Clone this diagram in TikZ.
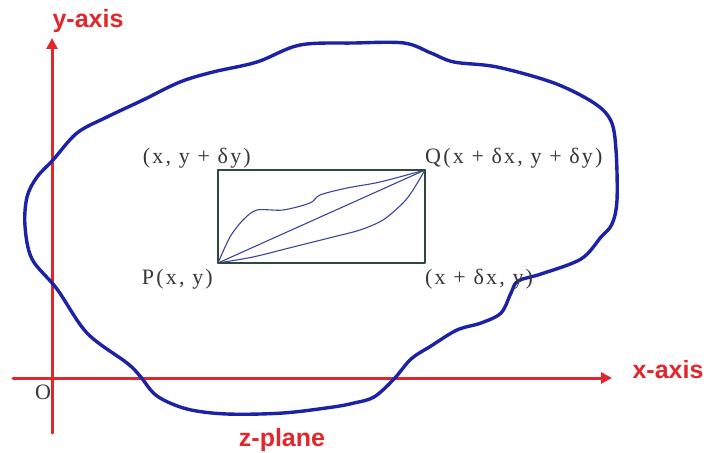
\documentclass[tikz,border=0pt]{standalone}
\usepackage{fontspec}
\setmainfont{Liberation Serif}
\newfontfamily\axisfont{Liberation Sans}
\newfontfamily\pointfont[LetterSpace=10]{Liberation Serif}
\usetikzlibrary{arrows.meta}
\definecolor{axisred}{HTML}{E0282C}
\definecolor{curveblue}{HTML}{1C22A8}
\definecolor{pathblue}{HTML}{3A44A0}
\definecolor{boxgreen}{HTML}{2E4A38}
\definecolor{labelgray}{HTML}{383838}
\tikzset{
  every picture/.style={
    line join=round,
    line cap=round,
  },
  axis/.style={axisred, line width=3pt, -{Triangle[length=11pt,width=11pt]}},
  axislabel/.style={axisred, font=\axisfont\bfseries\fontsize{25}{25}\selectfont},
  ptlabel/.style={labelgray, inner sep=0pt, text height=15pt, text depth=5pt,
    font=\pointfont\fontsize{22}{22}\selectfont},
  region/.style={curveblue, line width=3.4pt},
  route/.style={pathblue, line width=1.1pt},
  box/.style={boxgreen, line width=2.2pt, line cap=butt},
}
\begin{document}
\begin{tikzpicture}[x=1pt, y=-1pt]
    \useasboundingbox (0,0) rectangle (708,452);

    % Axes
    \coordinate (ybot) at (52,433);
    \coordinate (ytop) at (52,38);
    \coordinate (xleft) at (13,378);
    \coordinate (xright) at (612,378);
    \draw[axis] (ybot) -- (ytop);
    \draw[axis] (xleft) -- (xright);
    \node[axislabel] (ylab) at (88,21) {y-axis};
    \node[axislabel] (xlab) at (668,370) {x-axis};
    \node[ptlabel] (origin) at (43,394) {O};
    \node[axislabel] (plane) at (282,440) {z-plane};

    % Closed region
    \draw[region] plot[smooth cycle, tension=0.55] coordinates {
      (300,45) (354,43) (404,43) (431,53) (454,62) (497,67) (554,83)
      (594,103) (611,121) (616,150) (617,200) (612,224) (601,237)
      (581,259) (541,274) (518,281) (511,293) (501,313) (481,323)
      (457,330) (431,346) (411,359) (394,379) (374,397) (354,403)
      (333,407) (283,413) (227,414) (187,409) (157,396) (140,376)
      (127,363) (87,333) (57,289) (32,259) (25,226) (27,197) (37,177)
      (53,160) (77,133) (107,117) (143,100) (180,82) (213,72) (257,62)};

    % Rectangle PQ
    \coordinate (P) at (218,263);
    \coordinate (Q) at (425,170);
    \draw[route] plot[smooth, tension=0.5] coordinates {
      (P) (230,237) (243,220) (257,210) (283,210) (310,203) (320,195)
      (347,188) (380,182) (Q)};
    \draw[route] plot[smooth, tension=0.5] coordinates {
      (P) (253,257) (293,247) (333,237) (360,230) (383,220) (403,203)
      (413,190) (Q)};
    \draw[route] (P) -- (Q);
    \draw[box] (P) rectangle (Q);

    % Corner labels
    \node[ptlabel, anchor=east] (tl) at (251,158) {(x, y + δy)};
    \node[ptlabel, anchor=west] (tr) at (425,158) {Q(x + δx, y + δy)};
    \node[ptlabel, anchor=east] (bl) at (213,279) {P(x, y)};
    \node[ptlabel, anchor=west] (br) at (425,279) {(x + δx, y)};
\end{tikzpicture}
\end{document}
